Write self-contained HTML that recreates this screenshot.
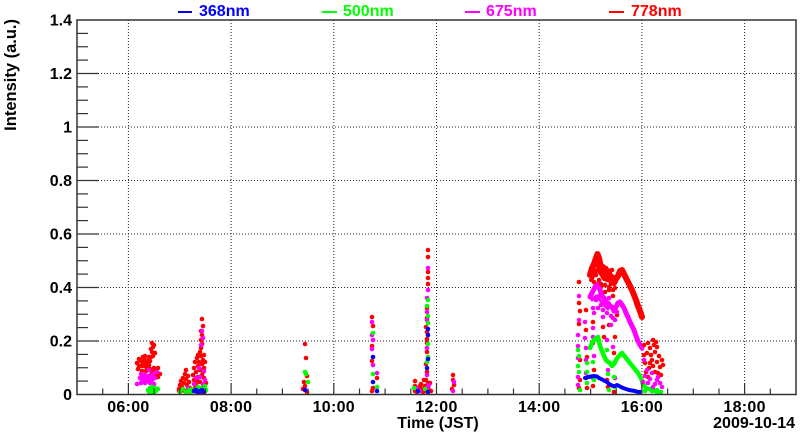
<!DOCTYPE html>
<html><head><meta charset="utf-8"><style>
html,body{margin:0;padding:0;background:#fff;}
svg{display:block;}
text{font-family:"Liberation Sans",Arial,sans-serif;font-weight:bold;fill:#000;}
.r{fill:#ff0000}.m{fill:#ff00ff}.g{fill:#00ff00}.b{fill:#0000ff}
.grid{stroke:#222;stroke-width:1;stroke-dasharray:1 2;fill:none}
.tk{stroke:#333;stroke-width:1.2}
.cur{fill:none;stroke-linecap:round;stroke-linejoin:round}
</style></head><body>
<svg width="800" height="434" viewBox="0 0 800 434" xmlns="http://www.w3.org/2000/svg">
<rect width="800" height="434" fill="#fff"/>
<!-- grid -->
<g class="grid">
<line x1="77" y1="73.5" x2="796" y2="73.5"/><line x1="77" y1="127" x2="796" y2="127"/>
<line x1="77" y1="180.5" x2="796" y2="180.5"/><line x1="77" y1="234" x2="796" y2="234"/>
<line x1="77" y1="287.5" x2="796" y2="287.5"/><line x1="77" y1="341" x2="796" y2="341"/>
<line x1="128.4" y1="20" x2="128.4" y2="394"/><line x1="231.1" y1="20" x2="231.1" y2="394"/>
<line x1="333.8" y1="20" x2="333.8" y2="394"/><line x1="436.5" y1="20" x2="436.5" y2="394"/>
<line x1="539.2" y1="20" x2="539.2" y2="394"/><line x1="641.9" y1="20" x2="641.9" y2="394"/>
<line x1="744.6" y1="20" x2="744.6" y2="394"/>
</g>
<!-- data -->
<g>
<!-- cluster A -->
<g class="r">
<circle cx="137" cy="363" r="2.3"/><circle cx="139" cy="359" r="2.3"/><circle cx="141" cy="361" r="2.3"/><circle cx="143" cy="357" r="2.3"/><circle cx="145" cy="360" r="2.3"/><circle cx="146" cy="364" r="2.3"/><circle cx="144" cy="366" r="2.3"/><circle cx="141" cy="366" r="2.3"/><circle cx="139" cy="366" r="2.3"/><circle cx="138" cy="369" r="2.3"/><circle cx="147" cy="368" r="2.3"/><circle cx="149" cy="365" r="2.3"/><circle cx="148" cy="361" r="2.3"/><circle cx="150" cy="369" r="2.3"/><circle cx="152" cy="372" r="2.3"/><circle cx="154" cy="368" r="2.3"/><circle cx="156" cy="370" r="2.3"/><circle cx="158" cy="368" r="2.3"/><circle cx="151" cy="375" r="2.3"/><circle cx="154" cy="377" r="2.3"/><circle cx="156" cy="375" r="2.3"/><circle cx="158" cy="377" r="2.3"/><circle cx="150" cy="361" r="2.3"/><circle cx="151" cy="357" r="2.3"/><circle cx="152" cy="352" r="2.3"/><circle cx="153" cy="347" r="2.3"/><circle cx="152" cy="343" r="2.3"/><circle cx="154" cy="345" r="2.3"/><circle cx="151" cy="349" r="2.3"/><circle cx="153" cy="356" r="2.3"/><circle cx="155" cy="353" r="2.3"/><circle cx="149" cy="357" r="2.3"/><circle cx="146" cy="371" r="2.3"/><circle cx="142" cy="371" r="2.3"/><circle cx="160" cy="374" r="2.3"/><circle cx="143" cy="363" r="2.3"/><circle cx="145" cy="356" r="2.3"/>
</g>
<g class="m">
<circle cx="137" cy="384" r="2.3"/><circle cx="140" cy="378" r="2.3"/><circle cx="141" cy="374" r="2.3"/><circle cx="142" cy="381" r="2.3"/><circle cx="143" cy="377" r="2.3"/><circle cx="144" cy="380" r="2.3"/><circle cx="145" cy="375" r="2.3"/><circle cx="146" cy="378" r="2.3"/><circle cx="147" cy="381" r="2.3"/><circle cx="148" cy="376" r="2.3"/><circle cx="149" cy="379" r="2.3"/><circle cx="150" cy="383" r="2.3"/><circle cx="151" cy="377" r="2.3"/><circle cx="152" cy="380" r="2.3"/><circle cx="153" cy="374" r="2.3"/><circle cx="155" cy="378" r="2.3"/><circle cx="157" cy="372" r="2.3"/><circle cx="149" cy="370" r="2.3"/><circle cx="145" cy="383" r="2.3"/><circle cx="141" cy="383" r="2.3"/><circle cx="154" cy="384" r="2.3"/>
</g>
<g class="g">
<circle cx="148" cy="390" r="2.3"/><circle cx="150" cy="388" r="2.3"/><circle cx="151" cy="392" r="2.3"/><circle cx="152" cy="387" r="2.3"/><circle cx="153" cy="390" r="2.3"/><circle cx="154" cy="392" r="2.3"/><circle cx="155" cy="388" r="2.3"/><circle cx="156" cy="391" r="2.3"/><circle cx="158" cy="389" r="2.3"/><circle cx="149" cy="392" r="2.3"/>
</g>
<!-- cluster B -->
<g class="r">
<circle cx="179" cy="389" r="2.3"/><circle cx="180" cy="385" r="2.3"/><circle cx="181" cy="381" r="2.3"/><circle cx="182" cy="387" r="2.3"/><circle cx="183" cy="378" r="2.3"/><circle cx="184" cy="383" r="2.3"/><circle cx="185" cy="374" r="2.3"/><circle cx="186" cy="370" r="2.3"/><circle cx="186" cy="379" r="2.3"/><circle cx="187" cy="385" r="2.3"/><circle cx="188" cy="376" r="2.3"/><circle cx="189" cy="382" r="2.3"/><circle cx="190" cy="388" r="2.3"/><circle cx="183" cy="390" r="2.3"/><circle cx="185" cy="391" r="2.3"/><circle cx="187" cy="391" r="2.3"/><circle cx="181" cy="391" r="2.3"/><circle cx="179" cy="391" r="2.3"/><circle cx="189" cy="391" r="2.3"/>
<circle cx="193" cy="375" r="2.3"/><circle cx="194" cy="368" r="2.3"/><circle cx="195" cy="362" r="2.3"/><circle cx="196" cy="372" r="2.3"/><circle cx="197" cy="358" r="2.3"/><circle cx="198" cy="366" r="2.3"/><circle cx="199" cy="362" r="2.3"/><circle cx="200" cy="370" r="2.3"/><circle cx="201" cy="356" r="2.3"/><circle cx="202" cy="364" r="2.3"/><circle cx="203" cy="360" r="2.3"/><circle cx="204" cy="368" r="2.3"/><circle cx="205" cy="362" r="2.3"/><circle cx="194" cy="380" r="2.3"/><circle cx="196" cy="384" r="2.3"/><circle cx="198" cy="377" r="2.3"/><circle cx="200" cy="382" r="2.3"/><circle cx="202" cy="375" r="2.3"/><circle cx="204" cy="378" r="2.3"/><circle cx="206" cy="383" r="2.3"/><circle cx="195" cy="388" r="2.3"/><circle cx="199" cy="390" r="2.3"/><circle cx="203" cy="388" r="2.3"/><circle cx="205" cy="391" r="2.3"/><circle cx="197" cy="392" r="2.3"/><circle cx="201" cy="392" r="2.3"/><circle cx="200" cy="352" r="2.3"/><circle cx="201" cy="348" r="2.3"/><circle cx="202" cy="344" r="2.3"/><circle cx="201" cy="340" r="2.3"/><circle cx="202" cy="335" r="2.3"/><circle cx="201" cy="331" r="2.3"/><circle cx="203" cy="326" r="2.3"/><circle cx="202" cy="319" r="2.3"/><circle cx="198" cy="355" r="2.3"/><circle cx="204" cy="355" r="2.3"/><circle cx="203" cy="372" r="2.3"/><circle cx="197" cy="380" r="2.3"/>
</g>
<g class="m">
<circle cx="202" cy="331" r="2.3"/><circle cx="203" cy="338" r="2.3"/><circle cx="201" cy="345" r="2.3"/><circle cx="199" cy="368" r="2.3"/><circle cx="204" cy="371" r="2.3"/><circle cx="196" cy="378" r="2.3"/><circle cx="200" cy="377" r="2.3"/><circle cx="203" cy="384" r="2.3"/><circle cx="194" cy="384" r="2.3"/><circle cx="188" cy="388" r="2.3"/><circle cx="205" cy="380" r="2.3"/>
</g>
<g class="g">
<circle cx="180" cy="392" r="2.3"/><circle cx="183" cy="389" r="2.3"/><circle cx="186" cy="392" r="2.3"/><circle cx="189" cy="390" r="2.3"/><circle cx="192" cy="389" r="2.3"/><circle cx="195" cy="390" r="2.3"/><circle cx="198" cy="387" r="2.3"/><circle cx="200" cy="388" r="2.3"/><circle cx="203" cy="389" r="2.3"/><circle cx="205" cy="386" r="2.3"/><circle cx="206" cy="390" r="2.3"/><circle cx="191" cy="392" r="2.3"/>
</g>
<g class="b">
<circle cx="194" cy="391" r="2.3"/><circle cx="196" cy="390" r="2.3"/><circle cx="198" cy="392" r="2.3"/><circle cx="200" cy="391" r="2.3"/><circle cx="202" cy="390" r="2.3"/><circle cx="204" cy="392" r="2.3"/>
</g>
<!-- cluster C -->
<g class="r"><circle cx="305" cy="344" r="2.3"/><circle cx="306" cy="358" r="2.3"/><circle cx="307" cy="376" r="2.3"/><circle cx="304" cy="382" r="2.3"/><circle cx="305" cy="386" r="2.3"/><circle cx="307" cy="392" r="2.3"/><circle cx="303" cy="389" r="2.3"/></g>
<g class="g"><circle cx="305" cy="372" r="2.3"/><circle cx="306" cy="374" r="2.3"/><circle cx="308" cy="382" r="2.3"/></g>
<g class="b"><circle cx="305" cy="390" r="2.3"/></g>
<!-- cluster D -->
<g class="r"><circle cx="372" cy="317" r="2.3"/><circle cx="373" cy="326" r="2.3"/><circle cx="372" cy="346" r="2.3"/><circle cx="372" cy="361" r="2.3"/><circle cx="377" cy="378" r="2.3"/><circle cx="373" cy="388" r="2.3"/><circle cx="372" cy="391" r="2.3"/></g>
<g class="m"><circle cx="372" cy="322" r="2.3"/><circle cx="373" cy="340" r="2.3"/><circle cx="372" cy="349" r="2.3"/><circle cx="373" cy="365" r="2.3"/><circle cx="377" cy="373" r="2.3"/><circle cx="372" cy="335" r="2.3"/></g>
<g class="g"><circle cx="373" cy="333" r="2.3"/><circle cx="373" cy="374" r="2.3"/><circle cx="377" cy="387" r="2.3"/></g>
<g class="b"><circle cx="373" cy="357" r="2.3"/><circle cx="373" cy="382" r="2.3"/><circle cx="377" cy="391" r="2.3"/></g>
<!-- cluster E column -->
<g class="r"><circle cx="428" cy="250" r="2.3"/><circle cx="428" cy="257" r="2.3"/><circle cx="428" cy="272" r="2.3"/><circle cx="428" cy="278" r="2.3"/><circle cx="428" cy="284" r="2.3"/><circle cx="427" cy="308" r="2.3"/><circle cx="426" cy="327" r="2.3"/><circle cx="427" cy="332" r="2.3"/><circle cx="427" cy="339" r="2.3"/><circle cx="427" cy="343" r="2.3"/><circle cx="427" cy="352" r="2.3"/><circle cx="427" cy="372" r="2.3"/><circle cx="426" cy="380" r="2.3"/><circle cx="428" cy="383" r="2.3"/><circle cx="427" cy="318" r="2.3"/><circle cx="426" cy="364" r="2.3"/></g>
<g class="m"><circle cx="428" cy="268" r="2.3"/><circle cx="427" cy="298" r="2.3"/><circle cx="427" cy="312" r="2.3"/><circle cx="427" cy="320" r="2.3"/><circle cx="427" cy="348" r="2.3"/><circle cx="427" cy="375" r="2.3"/><circle cx="428" cy="290" r="2.3"/></g>
<g class="g"><circle cx="428" cy="300" r="2.3"/><circle cx="427" cy="306" r="2.3"/><circle cx="428" cy="316" r="2.3"/><circle cx="428" cy="323" r="2.3"/><circle cx="428" cy="357" r="2.3"/><circle cx="427" cy="362" r="2.3"/><circle cx="428" cy="344" r="2.3"/></g>
<g class="b"><circle cx="428" cy="329" r="2.3"/><circle cx="428" cy="335" r="2.3"/><circle cx="427" cy="368" r="2.3"/><circle cx="428" cy="359" r="2.3"/></g>
<!-- cluster E bottom -->
<g class="r"><circle cx="415" cy="381" r="2.3"/><circle cx="415" cy="386" r="2.3"/><circle cx="415" cy="391" r="2.3"/><circle cx="419" cy="389" r="2.3"/><circle cx="421" cy="384" r="2.3"/><circle cx="422" cy="389" r="2.3"/><circle cx="424" cy="380" r="2.3"/><circle cx="425" cy="386" r="2.3"/><circle cx="426" cy="391" r="2.3"/><circle cx="428" cy="387" r="2.3"/><circle cx="429" cy="390" r="2.3"/><circle cx="430" cy="383" r="2.3"/><circle cx="431" cy="391" r="2.3"/><circle cx="417" cy="392" r="2.3"/><circle cx="423" cy="392" r="2.3"/><circle cx="420" cy="386" r="2.3"/></g>
<g class="m"><circle cx="416" cy="388" r="2.3"/><circle cx="420" cy="391" r="2.3"/><circle cx="427" cy="388" r="2.3"/><circle cx="429" cy="385" r="2.3"/></g>
<g class="g"><circle cx="414" cy="388" r="2.3"/><circle cx="425" cy="389" r="2.3"/></g>
<g class="b"><circle cx="418" cy="391" r="2.3"/><circle cx="428" cy="392" r="2.3"/></g>
<!-- cluster F -->
<g class="r"><circle cx="453" cy="375" r="2.3"/><circle cx="453" cy="380" r="2.3"/><circle cx="454" cy="385" r="2.3"/><circle cx="452" cy="389" r="2.3"/></g>
<g class="m"><circle cx="453" cy="391" r="2.3"/><circle cx="454" cy="382" r="2.3"/></g>
<!-- cluster G columns -->
<g class="r"><circle cx="579" cy="282" r="2.3"/><circle cx="579" cy="303" r="2.3"/><circle cx="580" cy="311" r="2.3"/><circle cx="579" cy="324" r="2.3"/><circle cx="580" cy="360" r="2.3"/><circle cx="580" cy="380" r="2.3"/><circle cx="579" cy="388" r="2.3"/>
<circle cx="586" cy="310" r="2.3"/><circle cx="586" cy="330" r="2.3"/><circle cx="587" cy="357" r="2.3"/><circle cx="586" cy="378" r="2.3"/><circle cx="587" cy="388" r="2.3"/>
<circle cx="593" cy="322" r="2.3"/><circle cx="593" cy="343" r="2.3"/><circle cx="594" cy="370" r="2.3"/><circle cx="593" cy="386" r="2.3"/>
<circle cx="603" cy="327" r="2.3"/><circle cx="609" cy="325" r="2.3"/><circle cx="604" cy="337" r="2.3"/><circle cx="607" cy="380" r="2.3"/><circle cx="608" cy="387" r="2.3"/><circle cx="615" cy="337" r="2.3"/><circle cx="614" cy="353" r="2.3"/><circle cx="614" cy="392" r="2.3"/><circle cx="601" cy="287" r="2.3"/><circle cx="605" cy="292" r="2.3"/><circle cx="609" cy="290" r="2.3"/><circle cx="613" cy="296" r="2.3"/><circle cx="617" cy="315" r="2.3"/><circle cx="606" cy="360" r="2.3"/>
</g>
<g class="m"><circle cx="579" cy="296" r="2.3"/><circle cx="579" cy="320" r="2.3"/><circle cx="578" cy="335" r="2.3"/><circle cx="578" cy="358" r="2.3"/><circle cx="578" cy="377" r="2.3"/><circle cx="578" cy="385" r="2.3"/><circle cx="578" cy="346" r="2.3"/>
<circle cx="585" cy="322" r="2.3"/><circle cx="585" cy="338" r="2.3"/><circle cx="586" cy="360" r="2.3"/><circle cx="586" cy="373" r="2.3"/><circle cx="586" cy="348" r="2.3"/>
<circle cx="593" cy="308" r="2.3"/><circle cx="594" cy="313" r="2.3"/><circle cx="593" cy="328" r="2.3"/><circle cx="593" cy="337" r="2.3"/><circle cx="594" cy="356" r="2.3"/><circle cx="593" cy="378" r="2.3"/>
<circle cx="603" cy="317" r="2.3"/><circle cx="607" cy="340" r="2.3"/><circle cx="608" cy="370" r="2.3"/><circle cx="613" cy="347" r="2.3"/><circle cx="615" cy="378" r="2.3"/><circle cx="611" cy="325" r="2.3"/>
<circle cx="596" cy="300" r="2.3"/><circle cx="599" cy="296" r="2.3"/><circle cx="601" cy="305" r="2.3"/><circle cx="603" cy="310" r="2.3"/><circle cx="605" cy="300" r="2.3"/><circle cx="607" cy="313" r="2.3"/><circle cx="609" cy="298" r="2.3"/><circle cx="611" cy="316" r="2.3"/><circle cx="613" cy="318" r="2.3"/><circle cx="615" cy="320" r="2.3"/><circle cx="617" cy="312" r="2.3"/><circle cx="598" cy="308" r="2.3"/>
</g>
<g class="g"><circle cx="578" cy="350" r="2.3"/><circle cx="579" cy="356" r="2.3"/><circle cx="579" cy="372" r="2.3"/><circle cx="580" cy="390" r="2.3"/><circle cx="578" cy="366" r="2.3"/>
<circle cx="587" cy="363" r="2.3"/><circle cx="587" cy="372" r="2.3"/><circle cx="587" cy="383" r="2.3"/><circle cx="593" cy="362" r="2.3"/><circle cx="594" cy="380" r="2.3"/>
<circle cx="607" cy="350" r="2.3"/><circle cx="608" cy="374" r="2.3"/><circle cx="609" cy="390" r="2.3"/><circle cx="615" cy="387" r="2.3"/><circle cx="614" cy="377" r="2.3"/>
</g>
<!-- main curves -->
<polyline class="cur" stroke="#0000ff" stroke-width="4" points="585,378 588,377 591,376.5 594,376 597,376.5 599,378 601,379 603,380 605,381 607,382 609,384 611,385 613,386 615,386 617,385 619,386 621,387 623,388 626,389 629,390 632,390.5 635,391 638,392 640,392"/>
<polyline class="cur" stroke="#00ff00" stroke-width="4.5" points="590,348 592,343 594,340 596,338 598,337 600,346 602,351 604,356 606,360 608,362 610,363 612,366 614,364 616,360 618,357 620,355 622,353 626,358 630,363 634,368 638,373 641,378 643,384 646,388 650,389 655,391 660,392"/>
<polyline class="cur" stroke="#ff00ff" stroke-width="5" points="590,297 592,293 594,289 596,285 598,284 600,290 602,296 604,298 606,302 608,303 610,306 612,307 614,311 616,307 618,303 620,302 622,305 624,308 626,313 628,317 630,322 632,326 634,330 636,336 638,341 640,345 642,348"/>
<polyline class="cur" stroke="#ff00ff" stroke-width="3" points="592,300 596,296 600,300 604,305 608,309"/>
<polyline class="cur" stroke="#ff0000" stroke-width="6" points="590,275 592,268 594,264 596,258 597.5,254 599,258 600,263 601.5,268 603,267 604.5,273 606,276 608,271 610,280 612,277 614,283 616,279 618,276 620,271 622,270 624,274 626,278 628,282 630,286 632,290 634,295 636,300 638,306 640,311 642,317"/>
<polyline class="cur" stroke="#ff0000" stroke-width="4" points="591,280 593,276 595,272 598,270 601,274 604,279"/>
<g class="r"><circle cx="592" cy="278" r="2.3"/><circle cx="594" cy="282" r="2.3"/><circle cx="596" cy="275" r="2.3"/><circle cx="598" cy="266" r="2.3"/><circle cx="599" cy="280" r="2.3"/><circle cx="601" cy="284" r="2.3"/><circle cx="603" cy="276" r="2.3"/><circle cx="605" cy="285" r="2.3"/><circle cx="607" cy="280" r="2.3"/><circle cx="609" cy="287" r="2.3"/><circle cx="611" cy="284" r="2.3"/><circle cx="613" cy="290" r="2.3"/><circle cx="615" cy="288" r="2.3"/><circle cx="595" cy="270" r="2.3"/><circle cx="600" cy="272" r="2.3"/><circle cx="606" cy="268" r="2.3"/><circle cx="610" cy="273" r="2.3"/><circle cx="612" cy="270" r="2.3"/></g>
<!-- tail after 16:00 -->
<g class="r"><circle cx="648" cy="343" r="2.3"/><circle cx="653" cy="340" r="2.3"/><circle cx="657" cy="347" r="2.3"/><circle cx="647" cy="353" r="2.3"/><circle cx="652" cy="360" r="2.3"/><circle cx="657" cy="362" r="2.3"/><circle cx="660" cy="367" r="2.3"/><circle cx="645" cy="363" r="2.3"/><circle cx="649" cy="368" r="2.3"/><circle cx="655" cy="372" r="2.3"/><circle cx="658" cy="373" r="2.3"/><circle cx="648" cy="377" r="2.3"/><circle cx="650" cy="348" r="2.3"/><circle cx="655" cy="352" r="2.3"/><circle cx="659" cy="356" r="2.3"/><circle cx="662" cy="360" r="2.3"/><circle cx="644" cy="355" r="2.3"/><circle cx="651" cy="355" r="2.3"/><circle cx="646" cy="372" r="2.3"/><circle cx="653" cy="366" r="2.3"/><circle cx="661" cy="375" r="2.3"/><circle cx="656" cy="342" r="2.3"/><circle cx="644" cy="345" r="2.3"/><circle cx="663" cy="365" r="2.3"/><circle cx="654" cy="345" r="2.3"/><circle cx="650" cy="363" r="2.3"/></g>
<g class="m"><circle cx="647" cy="370" r="2.3"/><circle cx="652" cy="373" r="2.3"/><circle cx="657" cy="380" r="2.3"/><circle cx="660" cy="383" r="2.3"/><circle cx="648" cy="383" r="2.3"/><circle cx="653" cy="387" r="2.3"/><circle cx="643" cy="382" r="2.3"/><circle cx="645" cy="376" r="2.3"/><circle cx="650" cy="379" r="2.3"/><circle cx="655" cy="384" r="2.3"/><circle cx="662" cy="387" r="2.3"/><circle cx="644" cy="360" r="2.3"/><circle cx="658" cy="377" r="2.3"/></g>
<g class="g"><circle cx="647" cy="389" r="2.3"/><circle cx="652" cy="391" r="2.3"/><circle cx="657" cy="390" r="2.3"/><circle cx="661" cy="392" r="2.3"/><circle cx="645" cy="391" r="2.3"/></g>
</g>
<!-- frame -->
<rect x="77" y="20" width="719" height="374.5" fill="none" stroke="#333" stroke-width="1.5"/>
<!-- y ticks -->
<g class="tk">
<line x1="77" y1="341" x2="99" y2="341"/><line x1="77" y1="287.5" x2="99" y2="287.5"/><line x1="77" y1="234" x2="99" y2="234"/><line x1="77" y1="180.5" x2="99" y2="180.5"/><line x1="77" y1="127" x2="99" y2="127"/><line x1="77" y1="73.5" x2="99" y2="73.5"/>
<line x1="77" y1="381.1" x2="88" y2="381.1"/><line x1="77" y1="367.75" x2="88" y2="367.75"/><line x1="77" y1="354.4" x2="88" y2="354.4"/>
<line x1="77" y1="327.6" x2="88" y2="327.6"/><line x1="77" y1="314.25" x2="88" y2="314.25"/><line x1="77" y1="300.9" x2="88" y2="300.9"/>
<line x1="77" y1="274.1" x2="88" y2="274.1"/><line x1="77" y1="260.75" x2="88" y2="260.75"/><line x1="77" y1="247.4" x2="88" y2="247.4"/>
<line x1="77" y1="220.6" x2="88" y2="220.6"/><line x1="77" y1="207.25" x2="88" y2="207.25"/><line x1="77" y1="193.9" x2="88" y2="193.9"/>
<line x1="77" y1="167.1" x2="88" y2="167.1"/><line x1="77" y1="153.75" x2="88" y2="153.75"/><line x1="77" y1="140.4" x2="88" y2="140.4"/>
<line x1="77" y1="113.6" x2="88" y2="113.6"/><line x1="77" y1="100.25" x2="88" y2="100.25"/><line x1="77" y1="86.9" x2="88" y2="86.9"/>
<line x1="77" y1="60.1" x2="88" y2="60.1"/><line x1="77" y1="46.75" x2="88" y2="46.75"/><line x1="77" y1="33.4" x2="88" y2="33.4"/>
</g>
<!-- x ticks -->
<g class="tk">
<line x1="128.4" y1="394" x2="128.4" y2="383"/><line x1="231.1" y1="394" x2="231.1" y2="383"/><line x1="333.8" y1="394" x2="333.8" y2="383"/><line x1="436.5" y1="394" x2="436.5" y2="383"/><line x1="539.2" y1="394" x2="539.2" y2="383"/><line x1="641.9" y1="394" x2="641.9" y2="383"/><line x1="744.6" y1="394" x2="744.6" y2="383"/>
<line x1="102.7" y1="394" x2="102.7" y2="388.5"/><line x1="154" y1="394" x2="154" y2="388.5"/><line x1="179.7" y1="394" x2="179.7" y2="388.5"/><line x1="205.4" y1="394" x2="205.4" y2="388.5"/>
<line x1="256.75" y1="394" x2="256.75" y2="388.5"/><line x1="282.4" y1="394" x2="282.4" y2="388.5"/><line x1="308.1" y1="394" x2="308.1" y2="388.5"/>
<line x1="359.5" y1="394" x2="359.5" y2="388.5"/><line x1="385.1" y1="394" x2="385.1" y2="388.5"/><line x1="410.8" y1="394" x2="410.8" y2="388.5"/>
<line x1="462.2" y1="394" x2="462.2" y2="388.5"/><line x1="487.9" y1="394" x2="487.9" y2="388.5"/><line x1="513.5" y1="394" x2="513.5" y2="388.5"/>
<line x1="564.9" y1="394" x2="564.9" y2="388.5"/><line x1="590.6" y1="394" x2="590.6" y2="388.5"/><line x1="616.25" y1="394" x2="616.25" y2="388.5"/>
<line x1="667.6" y1="394" x2="667.6" y2="388.5"/><line x1="693.3" y1="394" x2="693.3" y2="388.5"/><line x1="719" y1="394" x2="719" y2="388.5"/><line x1="770.3" y1="394" x2="770.3" y2="388.5"/>
</g>
<!-- y labels -->
<g font-size="16" text-anchor="end">
<text x="72" y="400">0</text>
<text x="72" y="346.5">0.2</text>
<text x="72" y="293">0.4</text>
<text x="72" y="239.5">0.6</text>
<text x="72" y="186">0.8</text>
<text x="72" y="132.5">1</text>
<text x="72" y="79">1.2</text>
<text x="72" y="25.5">1.4</text>
</g>
<!-- x labels -->
<g font-size="16" text-anchor="middle" letter-spacing="0.3">
<text x="128.4" y="412">06:00</text>
<text x="231.1" y="412">08:00</text>
<text x="333.8" y="412">10:00</text>
<text x="436.5" y="412">12:00</text>
<text x="539.2" y="412">14:00</text>
<text x="641.9" y="412">16:00</text>
<text x="744.6" y="412">18:00</text>
</g>
<text x="438" y="428" font-size="16" text-anchor="middle">Time (JST)</text>
<text x="795" y="428" font-size="16" text-anchor="end">2009-10-14</text>
<text transform="translate(16,19) rotate(-90)" font-size="16.5" text-anchor="end">Intensity (a.u.)</text>
<!-- legend -->
<g font-size="16">
<line x1="178" y1="12" x2="192" y2="12" stroke="#0000ff" stroke-width="2"/>
<text x="199" y="16" style="fill:#0000ff">368nm</text>
<line x1="322" y1="12" x2="337" y2="12" stroke="#00ff00" stroke-width="2"/>
<text x="343" y="16" style="fill:#00ff00">500nm</text>
<line x1="465" y1="12" x2="480" y2="12" stroke="#ff00ff" stroke-width="2"/>
<text x="486" y="16" style="fill:#ff00ff">675nm</text>
<line x1="609" y1="12" x2="624" y2="12" stroke="#ff0000" stroke-width="2"/>
<text x="631" y="16" style="fill:#ff0000">778nm</text>
</g>
</svg>
</body></html>
